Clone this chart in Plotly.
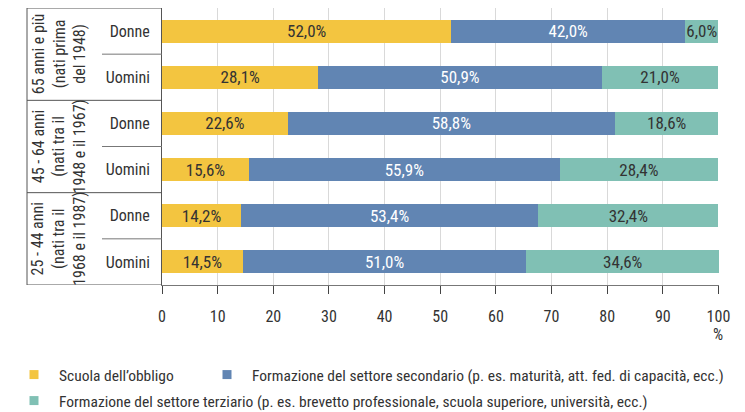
import plotly.graph_objects as go

# ---- data ----
gender_labels = ["Donne", "Uomini", "Donne", "Uomini", "Donne", "Uomini"]
age_groups = [
    "65 anni e più<br>(nati prima<br>del 1948)",
    "45 - 64 anni<br>(nati tra il<br>1948 e il 1967)",
    "25 - 44 anni<br>(nati tra il<br>1968 e il 1987)",
]
series_names = [
    "Scuola dell’obbligo",
    "Formazione del settore secondario (p. es. maturità, att. fed. di capacità, ecc.)",
    "Formazione del settore terziario (p. es. brevetto professionale, scuola superiore, università, ecc.)",
]
obbligo = [52.0, 28.1, 22.6, 15.6, 14.2, 14.5]
secondario = [42.0, 50.9, 58.8, 55.9, 53.4, 51.0]
terziario = [6.0, 21.0, 18.6, 28.4, 32.4, 34.6]
x_ticks = [0, 10, 20, 30, 40, 50, 60, 70, 80, 90, 100]

colors = ["#F3C540", "#6185B3", "#80C0B4"]
text_colors = ["#333333", "#FFFFFF", "#333333"]
FONT = "Roboto Condensed, DejaVu Sans Condensed, sans-serif"

ypos = list(range(len(gender_labels)))


def fmt(v):
    return f"{v:.1f}".replace(".", ",") + "%"


fig = go.Figure()
for vals, name, col, tcol in zip([obbligo, secondario, terziario], series_names, colors, text_colors):
    fig.add_trace(go.Bar(
        y=ypos, x=vals, orientation="h", name=name,
        marker=dict(color=col, line=dict(width=0)),
        text=[fmt(v) for v in vals], textposition="inside",
        insidetextanchor="middle", constraintext="none",
        textfont=dict(family=FONT, size=17, color=tcol),
        width=0.5, showlegend=False, hoverinfo="skip", cliponaxis=False,
    ))

# legend entries (separate legends for the layout of the reference)
legend_ids = ["legend", "legend2", "legend3"]
for name, col, lid in zip(series_names, colors, legend_ids):
    fig.add_trace(go.Scatter(
        x=[None], y=[None], mode="markers", name=name,
        marker=dict(symbol="square", size=9, color=col),
        legend=lid, showlegend=True,
    ))

# page has an 8px body margin: screen coordinate = figure coordinate + 8
OFF = 8
W, H = 745 - OFF, 412 - OFF
L, T = 162 - OFF, 8 - OFF
R = W - (719 - OFF)
B = H - (285 - OFF)
pw = W - L - R
ph = H - T - B


def px_x(x):
    return (x - OFF - L) / pw


def px_y(y):
    return (H - B - (y - OFF)) / ph


leg_common = dict(orientation="h", xanchor="left", yanchor="middle",
                  font=dict(family=FONT, size=15.5, color="#333333"),
                  bgcolor="rgba(0,0,0,0)", itemwidth=40, borderwidth=0)

fig.update_layout(
    width=W, height=H,
    margin=dict(l=L, r=R, t=T, b=B, autoexpand=False),
    paper_bgcolor="white", plot_bgcolor="white",
    barmode="stack", bargap=0.5,
    font=dict(family=FONT, size=16, color="#333333"),
    legend=dict(x=px_x(9), y=px_y(375), **leg_common),
    legend2=dict(x=px_x(202), y=px_y(375), **leg_common),
    legend3=dict(x=px_x(9), y=px_y(401), **leg_common),
    xaxis=dict(
        range=[0, 100.1], tickvals=x_ticks, ticktext=[str(t) for t in x_ticks],
        showgrid=True, gridcolor="#D9D9D9", gridwidth=1,
        showline=True, linecolor="#777777", linewidth=1,
        ticks="outside", ticklen=8, tickcolor="#444444",
        tickfont=dict(family=FONT, size=16, color="#333333"),
        zeroline=False, fixedrange=True, ticklabelstandoff=9, automargin=False,
    ),
    yaxis=dict(
        range=[5.5, -0.5], tickvals=ypos, ticktext=gender_labels,
        showgrid=False, showline=True, linecolor="#555555", linewidth=1,
        ticks="", tickfont=dict(family=FONT, size=16, color="#333333"),
        ticklabelstandoff=8, zeroline=False, fixedrange=True, automargin=False,
    ),
)

# axis unit label
fig.add_annotation(x=100, y=px_y(334), xref="x", yref="paper", text="%",
                   showarrow=False, font=dict(family=FONT, size=16, color="#333333"),
                   xanchor="center", yanchor="middle")

# group labels (rotated)
for i, g in enumerate(age_groups):
    fig.add_annotation(x=px_x(59), y=2 * i + 0.5, xref="paper", yref="y", text=g,
                       textangle=-90, showarrow=False, align="center",
                       font=dict(family=FONT, size=16, color="#333333"),
                       xanchor="center", yanchor="middle")

line_col = "#555555"
for yb in [-0.5, 1.5, 3.5, 5.5]:
    fig.add_shape(type="line", xref="paper", yref="y", x0=px_x(27), x1=0, y0=yb, y1=yb,
                  line=dict(color=line_col, width=1))
for yb in [0.5, 2.5, 4.5]:
    fig.add_shape(type="line", xref="paper", yref="y", x0=px_x(102), x1=0, y0=yb, y1=yb,
                  line=dict(color="#777777", width=1))
fig.add_shape(type="line", xref="paper", yref="y", x0=px_x(27), x1=px_x(27), y0=-0.5, y1=5.5,
              line=dict(color=line_col, width=1))

fig.write_html("out.html")
